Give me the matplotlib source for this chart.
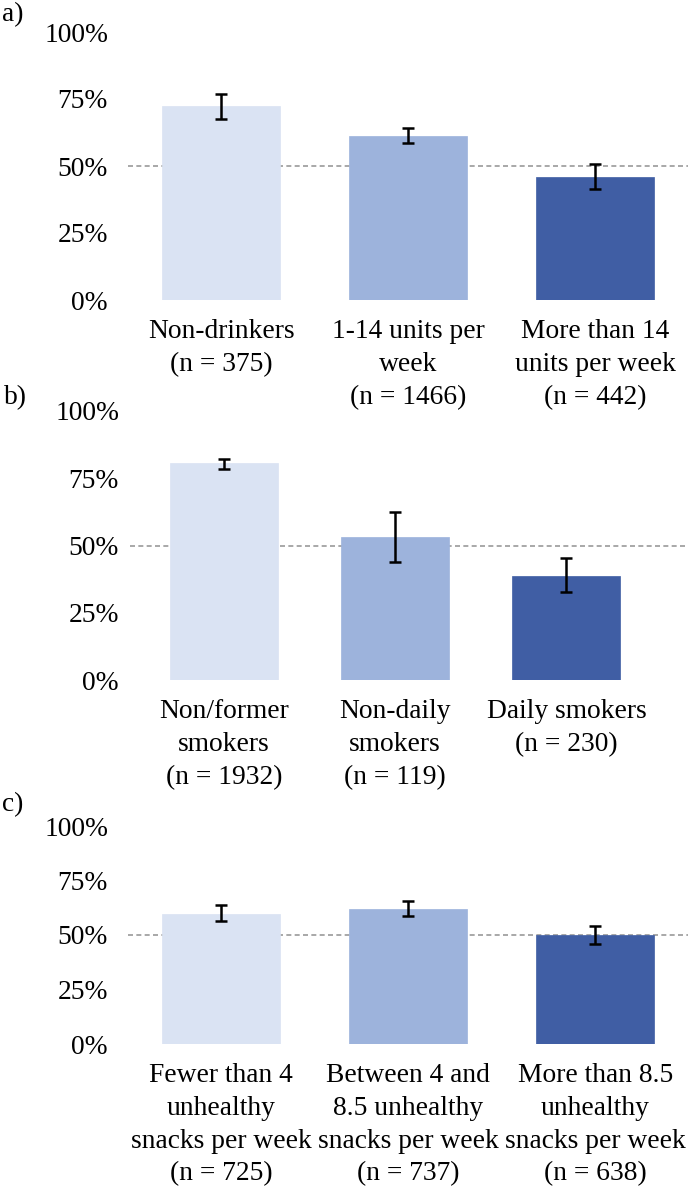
import numpy as np
import matplotlib
matplotlib.use("Agg")
import matplotlib.pyplot as plt

plt.rcParams['font.family'] = ['Liberation Serif', 'DejaVu Serif']

# data (proportions)
labels_a = ["Non-drinkers\n(n = 375)", "1-14 units per\nweek\n(n = 1466)",
            "More than 14\nunits per week\n(n = 442)"]
mean_a = [0.723, 0.611, 0.460]
low_a = [0.675, 0.586, 0.414]
high_a = [0.770, 0.640, 0.507]

labels_b = ["Non/former\nsmokers\n(n = 1932)", "Non-daily\nsmokers\n(n = 119)",
            "Daily smokers\n(n = 230)"]
mean_b = [0.805, 0.532, 0.388]
low_b = [0.786, 0.437, 0.326]
high_b = [0.822, 0.623, 0.455]

labels_c = ["Fewer than 4\nunhealthy\nsnacks per week\n(n = 725)",
            "Between 4 and\n8.5 unhealthy\nsnacks per week\n(n = 737)",
            "More than 8.5\nunhealthy\nsnacks per week\n(n = 638)"]
mean_c = [0.597, 0.617, 0.501]
low_c = [0.562, 0.586, 0.460]
high_c = [0.639, 0.655, 0.539]

yticks = [0, 0.25, 0.5, 0.75, 1.0]
ytick_labels = ["0%", "25%", "50%", "75%", "100%"]
colors = ['#DAE3F3', '#9DB3DC', '#405EA4']

W, H = 688, 1187
FS = 19.8
fig = plt.figure(figsize=(W / 100, H / 100), dpi=100)


def add_panel(rect_px, tag, tag_xy, labels, mean, low, high, line_span):
    x0, x1, y_base, y_top = rect_px
    ax = fig.add_axes([x0 / W, (H - y_base) / H, (x1 - x0) / W, (y_base - y_top) / H])
    x = np.arange(len(mean))
    mean = np.array(mean)
    err = [mean - np.array(low), np.array(high) - mean]
    ax.bar(x, mean, width=0.63, color=colors, edgecolor=colors, linewidth=0.5, zorder=2)
    ax.errorbar(x, mean, yerr=err, fmt='none', ecolor='black', elinewidth=1.8,
                capsize=4.3, capthick=1.8, zorder=3)
    # dashed reference line at 50%
    ax.axhline(0.5, xmin=line_span[0], xmax=line_span[1], color='#9A9A9A',
               linestyle=(0, (3, 2)), linewidth=1.2, zorder=1, clip_on=False)
    ax.set_xlim(-0.5, len(mean) - 0.5)
    ax.set_ylim(0, 1)
    ax.set_yticks(yticks)
    ax.set_yticklabels(ytick_labels)
    ax.set_xticks(x)
    ax.set_xticklabels(labels, linespacing=1.40)
    ax.tick_params(axis='y', length=0, pad=14, labelsize=FS)
    ax.tick_params(axis='x', length=0, pad=14, labelsize=FS)
    for s in ax.spines.values():
        s.set_visible(False)
    fig.text(tag_xy[0] / W, 1 - tag_xy[1] / H, tag, fontsize=FS, ha='left', va='center')
    return ax


add_panel((127.5, 689, 300, 32), "a)", (2, 15), labels_a, mean_a, low_a, high_a, (0.0, 1.0))
add_panel((138.5, 652, 680, 411), "b)", (4, 398), labels_b, mean_b, low_b, high_b, (-0.017, 1.07))
add_panel((127.5, 689, 1044, 826), "c)", (2, 805), labels_c, mean_c, low_c, high_c, (0.0, 1.0))

fig.savefig("out.png", dpi=100)
